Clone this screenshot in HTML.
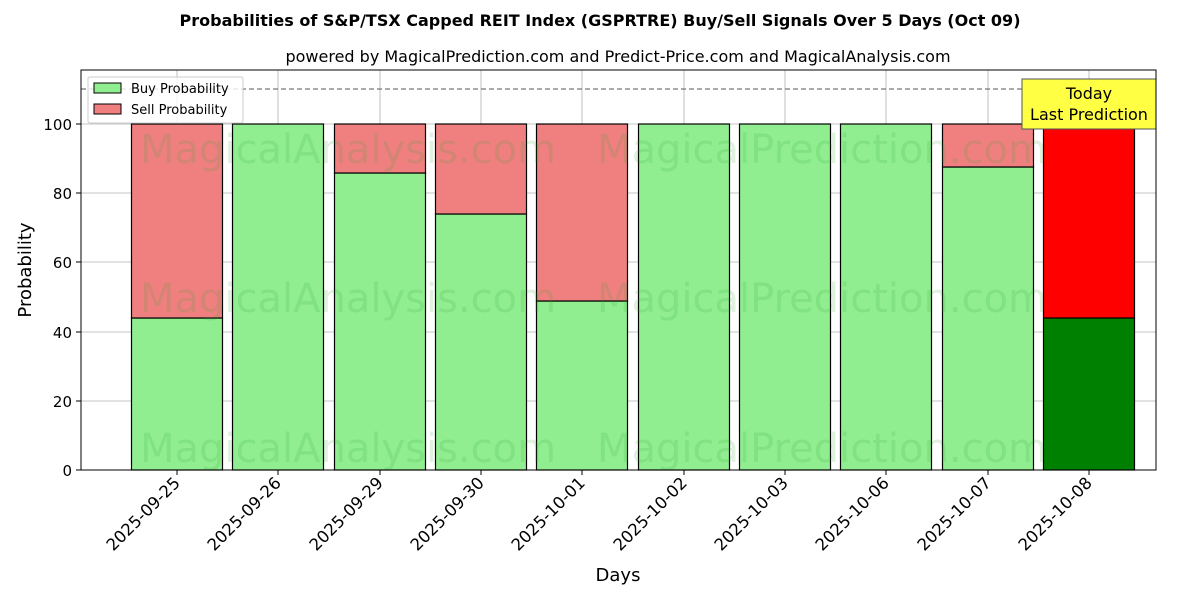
<!DOCTYPE html>
<html><head><meta charset="utf-8"><style>
body{margin:0;background:#fff;}
svg text{font-family:"DejaVu Sans","Liberation Sans",sans-serif;}
</style></head><body>
<svg width="1200" height="600" viewBox="0 0 1200 600" xmlns="http://www.w3.org/2000/svg">
<rect width="1200" height="600" fill="#fff"/>
<text x="600" y="26" text-anchor="middle" font-size="16" font-weight="bold">Probabilities of S&amp;P/TSX Capped REIT Index (GSPRTRE) Buy/Sell Signals Over 5 Days (Oct 09)</text>
<text x="618" y="62" text-anchor="middle" font-size="16">powered by MagicalPrediction.com and Predict-Price.com and MagicalAnalysis.com</text>
<g stroke="#b0b0b0" stroke-width="0.8">
<line x1="177" y1="70" x2="177" y2="470"/><line x1="278" y1="70" x2="278" y2="470"/><line x1="380" y1="70" x2="380" y2="470"/><line x1="481" y1="70" x2="481" y2="470"/><line x1="582" y1="70" x2="582" y2="470"/><line x1="684" y1="70" x2="684" y2="470"/><line x1="785" y1="70" x2="785" y2="470"/><line x1="886" y1="70" x2="886" y2="470"/><line x1="988" y1="70" x2="988" y2="470"/><line x1="1089" y1="70" x2="1089" y2="470"/>
<line x1="81" y1="401" x2="1156" y2="401"/><line x1="81" y1="332" x2="1156" y2="332"/><line x1="81" y1="262" x2="1156" y2="262"/><line x1="81" y1="193" x2="1156" y2="193"/><line x1="81" y1="124" x2="1156" y2="124"/>
</g>
<g stroke="#000" stroke-width="1.2">
<rect x="131.5" y="318" width="91" height="152" fill="#90ee90"/><rect x="131.5" y="124" width="91" height="194" fill="#f08080"/>
<rect x="232.5" y="124" width="91" height="346" fill="#90ee90"/>
<rect x="334.5" y="173" width="91" height="297" fill="#90ee90"/><rect x="334.5" y="124" width="91" height="49" fill="#f08080"/>
<rect x="435.5" y="214" width="91" height="256" fill="#90ee90"/><rect x="435.5" y="124" width="91" height="90" fill="#f08080"/>
<rect x="536.5" y="301" width="91" height="169" fill="#90ee90"/><rect x="536.5" y="124" width="91" height="177" fill="#f08080"/>
<rect x="638.5" y="124" width="91" height="346" fill="#90ee90"/>
<rect x="739.5" y="124" width="91" height="346" fill="#90ee90"/>
<rect x="840.5" y="124" width="91" height="346" fill="#90ee90"/>
<rect x="942.5" y="167" width="91" height="303" fill="#90ee90"/><rect x="942.5" y="124" width="91" height="43" fill="#f08080"/>
<rect x="1043.5" y="318" width="91" height="152" fill="#008000"/><rect x="1043.5" y="124" width="91" height="194" fill="#ff0000"/>
</g>
<g font-size="40" fill="#2ca02c" fill-opacity="0.15" text-anchor="middle">
<text x="348" y="163">MagicalAnalysis.com</text><text x="822" y="163">MagicalPrediction.com</text>
<text x="348" y="312">MagicalAnalysis.com</text><text x="822" y="312">MagicalPrediction.com</text>
<text x="348" y="462">MagicalAnalysis.com</text><text x="822" y="462">MagicalPrediction.com</text>
</g>
<line x1="81" y1="89" x2="1156" y2="89" stroke="#777" stroke-width="1.3" stroke-dasharray="5,3"/>
<rect x="1022" y="79" width="134" height="50" fill="#ffff44" stroke="#555" stroke-width="1"/>
<text x="1089" y="99" text-anchor="middle" font-size="16">Today</text>
<text x="1089" y="120" text-anchor="middle" font-size="16">Last Prediction</text>
<rect x="81" y="70" width="1075" height="400" fill="none" stroke="#000" stroke-width="1"/>
<rect x="88" y="77" width="155" height="46" fill="#fff" fill-opacity="0.8" stroke="#ccc" rx="2"/>
<rect x="94" y="83" width="27" height="10" fill="#90ee90" stroke="#000"/>
<text x="131" y="93" font-size="13">Buy Probability</text>
<rect x="94" y="104" width="27" height="10" fill="#f08080" stroke="#000"/>
<text x="131" y="114" font-size="13">Sell Probability</text>
<g font-size="15" text-anchor="end">
<text x="72" y="476">0</text><text x="72" y="407">20</text><text x="72" y="338">40</text><text x="72" y="268">60</text><text x="72" y="199">80</text><text x="72" y="130">100</text>
</g>
<g stroke="#000"><line x1="76" y1="470" x2="81" y2="470"/><line x1="76" y1="401" x2="81" y2="401"/><line x1="76" y1="332" x2="81" y2="332"/><line x1="76" y1="262" x2="81" y2="262"/><line x1="76" y1="193" x2="81" y2="193"/><line x1="76" y1="124" x2="81" y2="124"/></g>
<text transform="translate(31,270) rotate(-90)" text-anchor="middle" font-size="18">Probability</text>
<text x="618" y="581" text-anchor="middle" font-size="18">Days</text>
<g font-size="16.5" text-anchor="end">
<text transform="translate(181,484) rotate(-45)">2025-09-25</text>
<text transform="translate(282,484) rotate(-45)">2025-09-26</text>
<text transform="translate(384,484) rotate(-45)">2025-09-29</text>
<text transform="translate(485,484) rotate(-45)">2025-09-30</text>
<text transform="translate(586,484) rotate(-45)">2025-10-01</text>
<text transform="translate(688,484) rotate(-45)">2025-10-02</text>
<text transform="translate(789,484) rotate(-45)">2025-10-03</text>
<text transform="translate(890,484) rotate(-45)">2025-10-06</text>
<text transform="translate(992,484) rotate(-45)">2025-10-07</text>
<text transform="translate(1093,484) rotate(-45)">2025-10-08</text>
</g>
<g stroke="#000"><line x1="177" y1="470" x2="177" y2="475"/><line x1="278" y1="470" x2="278" y2="475"/><line x1="380" y1="470" x2="380" y2="475"/><line x1="481" y1="470" x2="481" y2="475"/><line x1="582" y1="470" x2="582" y2="475"/><line x1="684" y1="470" x2="684" y2="475"/><line x1="785" y1="470" x2="785" y2="475"/><line x1="886" y1="470" x2="886" y2="475"/><line x1="988" y1="470" x2="988" y2="475"/><line x1="1089" y1="470" x2="1089" y2="475"/></g>
</svg>
</body></html>
